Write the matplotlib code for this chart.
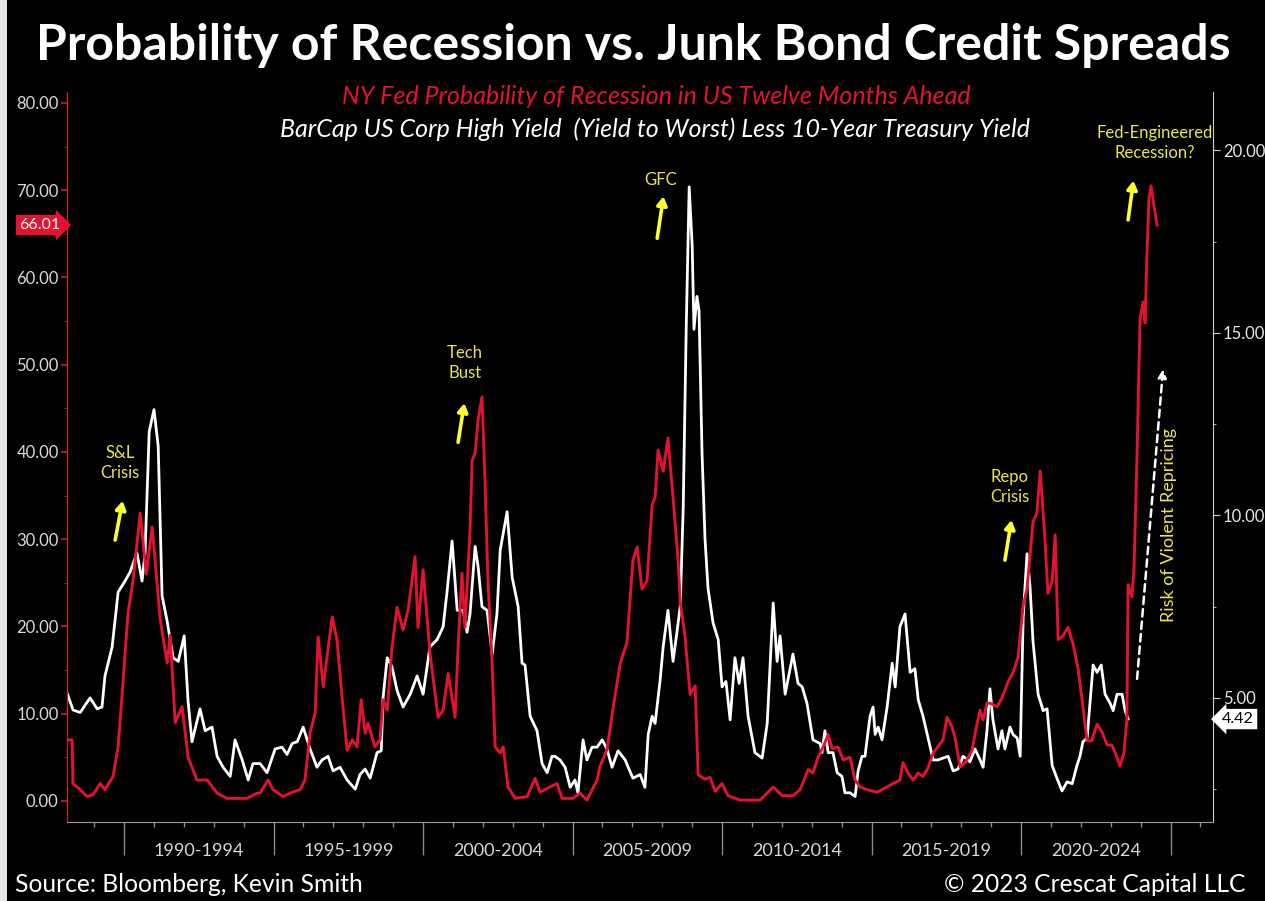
import numpy as np
import matplotlib
matplotlib.use("Agg")
import matplotlib.pyplot as plt
import matplotlib.transforms as mtransforms
from matplotlib.patches import Rectangle

# NY Fed probability of recession (left axis, %)
red_years = [1988.09, 1988.26, 1988.29, 1988.53, 1988.76, 1988.96, 1989.20, 1989.36, 1989.63, 1989.80,
             1989.97, 1990.13, 1990.30, 1990.54, 1990.74, 1990.94, 1991.20, 1991.44, 1991.54, 1991.71,
             1991.94, 1992.14, 1992.44, 1992.78, 1993.11, 1993.44, 1994.11, 1994.45, 1994.55, 1994.82,
             1994.98, 1995.32, 1995.62, 1995.89, 1996.05, 1996.22, 1996.39, 1996.49, 1996.66, 1996.96,
             1997.12, 1997.29, 1997.46, 1997.63, 1997.79, 1997.93, 1998.06, 1998.16, 1998.39, 1998.56,
             1998.66, 1998.80, 1998.96, 1999.13, 1999.33, 1999.50, 1999.73, 1999.83, 2000.00, 2000.23,
             2000.50, 2000.67, 2000.84, 2001.07, 2001.17, 2001.30, 2001.40, 2001.57, 2001.64, 2001.74,
             2001.84, 2001.97, 2002.07, 2002.17, 2002.31, 2002.41, 2002.58, 2002.68, 2002.84, 2003.08,
             2003.48, 2003.75, 2003.91, 2004.18, 2004.48, 2004.65, 2005.02, 2005.25, 2005.48, 2005.82,
             2005.92, 2006.15, 2006.35, 2006.59, 2006.82, 2007.02, 2007.16, 2007.32, 2007.49, 2007.66,
             2007.76, 2007.86, 2008.03, 2008.19, 2008.36, 2008.53, 2008.60, 2008.76, 2008.93, 2009.10,
             2009.20, 2009.43, 2009.60, 2009.77, 2010.00, 2010.20, 2010.60, 2011.27, 2011.71, 2012.01,
             2012.37, 2012.61, 2012.88, 2013.04, 2013.21, 2013.38, 2013.55, 2013.68, 2013.88, 2014.05,
             2014.28, 2014.45, 2014.62, 2014.85, 2015.18, 2015.52, 2015.72, 2015.95, 2016.05, 2016.22,
             2016.39, 2016.56, 2016.72, 2016.89, 2017.06, 2017.22, 2017.39, 2017.53, 2017.69, 2017.79,
             2017.96, 2018.13, 2018.36, 2018.53, 2018.63, 2018.73, 2018.86, 2018.96, 2019.20, 2019.36,
             2019.57, 2019.73, 2019.90, 2020.07, 2020.20, 2020.40, 2020.53, 2020.64, 2020.80, 2020.90,
             2021.04, 2021.14, 2021.24, 2021.40, 2021.57, 2021.74, 2021.91, 2022.07, 2022.21, 2022.37,
             2022.54, 2022.71, 2022.88, 2023.04, 2023.21, 2023.31, 2023.44, 2023.54, 2023.58, 2023.71,
             2023.78, 2023.88, 2023.98, 2024.08, 2024.15, 2024.21, 2024.28, 2024.35, 2024.41, 2024.55]
red_vals = [7.0, 7.0, 2.0, 1.3, 0.5, 0.7, 2.0, 1.3, 2.8, 6.2,
            13.9, 21.5, 25.3, 33.0, 26.0, 31.4, 21.0, 15.8, 19.0, 9.0,
            10.8, 5.0, 2.4, 2.4, 0.9, 0.3, 0.3, 0.9, 0.9, 2.4,
            1.3, 0.5, 1.0, 1.3, 2.4, 7.8, 10.1, 18.8, 13.1, 21.1,
            18.5, 11.9, 5.8, 7.0, 6.2, 11.6, 7.8, 8.9, 6.2, 7.0,
            11.6, 10.4, 17.6, 22.2, 19.6, 21.9, 28.0, 19.9, 26.5, 17.0,
            9.6, 10.4, 14.6, 9.6, 17.6, 26.1, 19.9, 31.0, 39.0, 39.9,
            43.7, 46.3, 36.8, 25.3, 15.8, 6.2, 5.5, 6.2, 1.6, 0.3,
            0.5, 2.6, 1.0, 1.5, 2.0, 0.3, 0.3, 0.9, 0.1, 2.4,
            4.0, 5.9, 10.5, 15.7, 18.2, 27.6, 29.1, 24.3, 25.2, 33.9,
            34.8, 40.2, 37.8, 41.6, 34.8, 27.6, 22.8, 18.9, 12.2, 13.2,
            3.0, 2.5, 2.7, 1.1, 2.0, 0.6, 0.1, 0.1, 1.6, 0.6,
            0.6, 1.3, 3.6, 3.2, 5.0, 6.2, 7.6, 6.0, 6.2, 4.7,
            5.0, 2.4, 1.6, 1.3, 1.0, 1.6, 2.0, 2.4, 4.4, 3.2,
            2.4, 3.2, 2.8, 3.8, 5.5, 6.2, 7.0, 9.6, 8.5, 7.3,
            3.9, 4.4, 5.8, 8.9, 10.4, 9.3, 11.2, 11.2, 10.8, 11.8,
            13.7, 14.7, 16.5, 22.4, 24.3, 32.0, 33.0, 37.8, 30.0, 23.8,
            25.2, 30.5, 18.5, 18.9, 19.9, 18.0, 15.1, 10.8, 6.9, 6.9,
            8.8, 7.9, 6.4, 6.4, 5.0, 4.0, 5.5, 9.3, 24.8, 23.4,
            26.7, 39.8, 55.2, 57.2, 54.8, 62.7, 69.1, 70.5, 69.0, 66.01]

# HY yield to worst less 10y treasury (right axis, %)
white_years = [1988.09, 1988.29, 1988.53, 1988.86, 1989.10, 1989.26, 1989.36, 1989.60, 1989.80, 1990.03,
               1990.20, 1990.43, 1990.60, 1990.70, 1990.84, 1991.00, 1991.14, 1991.27, 1991.44, 1991.64,
               1991.81, 1992.01, 1992.14, 1992.27, 1992.54, 1992.71, 1992.94, 1993.11, 1993.31, 1993.55,
               1993.71, 1993.95, 1994.15, 1994.31, 1994.55, 1994.78, 1995.05, 1995.28, 1995.45, 1995.62,
               1995.79, 1995.99, 1996.22, 1996.45, 1996.62, 1996.82, 1996.99, 1997.22, 1997.46, 1997.73,
               1997.89, 1998.06, 1998.23, 1998.46, 1998.60, 1998.66, 1998.80, 1998.96, 1999.13, 1999.33,
               1999.57, 1999.80, 2000.00, 2000.23, 2000.47, 2000.67, 2000.80, 2000.97, 2001.14, 2001.34,
               2001.47, 2001.57, 2001.74, 2001.84, 2001.97, 2002.14, 2002.31, 2002.47, 2002.58, 2002.81,
               2002.98, 2003.08, 2003.18, 2003.31, 2003.41, 2003.58, 2003.81, 2003.98, 2004.15, 2004.31,
               2004.41, 2004.58, 2004.75, 2004.92, 2005.08, 2005.18, 2005.35, 2005.48, 2005.65, 2005.82,
               2005.99, 2006.15, 2006.32, 2006.52, 2006.76, 2006.86, 2007.02, 2007.26, 2007.42, 2007.53,
               2007.66, 2007.76, 2007.93, 2008.03, 2008.19, 2008.36, 2008.49, 2008.60, 2008.70, 2008.80,
               2008.90, 2009.00, 2009.06, 2009.16, 2009.23, 2009.33, 2009.43, 2009.53, 2009.70, 2009.87,
               2010.00, 2010.13, 2010.27, 2010.43, 2010.57, 2010.70, 2010.87, 2011.10, 2011.34, 2011.51,
               2011.71, 2011.84, 2011.94, 2012.11, 2012.37, 2012.54, 2012.68, 2012.84, 2013.04, 2013.28,
               2013.34, 2013.44, 2013.55, 2013.71, 2013.85, 2014.01, 2014.11, 2014.28, 2014.45, 2014.55,
               2014.68, 2014.78, 2014.95, 2015.05, 2015.12, 2015.22, 2015.35, 2015.52, 2015.69, 2015.79,
               2015.95, 2016.12, 2016.29, 2016.45, 2016.56, 2016.72, 2016.96, 2017.06, 2017.22, 2017.39,
               2017.56, 2017.73, 2017.89, 2018.06, 2018.29, 2018.46, 2018.63, 2018.73, 2018.86, 2018.96,
               2019.06, 2019.23, 2019.36, 2019.46, 2019.63, 2019.73, 2019.87, 2019.97, 2020.07, 2020.20,
               2020.30, 2020.40, 2020.57, 2020.74, 2020.87, 2021.04, 2021.20, 2021.37, 2021.54, 2021.71,
               2021.87, 2021.97, 2022.07, 2022.21, 2022.41, 2022.54, 2022.68, 2022.81, 2022.98, 2023.08,
               2023.21, 2023.38, 2023.48, 2023.58]
white_vals = [5.14, 4.67, 4.6, 5.0, 4.7, 4.75, 5.6, 6.4, 7.9, 8.2,
              8.45, 8.97, 8.2, 8.97, 12.3, 12.9, 11.9, 7.8, 7.1, 6.1,
              6.0, 6.7, 4.9, 3.8, 4.7, 4.1, 4.2, 3.4, 3.1, 2.85,
              3.85, 3.3, 2.75, 3.2, 3.2, 2.95, 3.6, 3.65, 3.45, 3.75,
              3.8, 4.2, 3.6, 3.1, 3.3, 3.4, 3.0, 3.1, 2.75, 2.5,
              2.9, 3.05, 2.8, 3.5, 3.55, 5.0, 6.1, 5.85, 5.2, 4.75,
              5.1, 5.6, 5.1, 6.4, 6.6, 6.95, 7.9, 9.3, 7.4, 7.4,
              6.8, 7.3, 9.15, 8.6, 7.5, 7.4, 6.2, 7.3, 9.05, 10.1,
              8.3, 7.9, 7.5, 5.95, 5.9, 4.5, 4.1, 3.2, 2.95, 3.4,
              3.4, 3.3, 3.1, 2.55, 2.75, 2.4, 3.85, 3.3, 3.65, 3.65,
              3.85, 3.6, 3.1, 3.55, 3.3, 3.1, 2.8, 2.9, 2.55, 4.0,
              4.5, 4.3, 5.5, 6.4, 7.4, 6.0, 6.8, 7.5, 10.2, 15.1,
              19.0, 17.4, 15.1, 16.0, 15.6, 11.7, 9.35, 8.0, 7.05, 6.6,
              5.3, 5.45, 4.4, 6.1, 5.4, 6.1, 4.5, 3.5, 3.35, 4.3,
              7.6, 6.0, 6.7, 5.1, 6.2, 5.4, 5.3, 4.85, 3.85, 3.75,
              3.5, 4.1, 3.5, 3.5, 2.95, 2.85, 2.4, 2.4, 2.3, 3.0,
              3.4, 3.4, 4.5, 4.75, 4.0, 4.2, 3.85, 4.75, 5.95, 5.3,
              6.95, 7.3, 5.7, 5.8, 4.95, 4.5, 3.65, 3.3, 3.3, 3.35,
              3.4, 3.0, 3.05, 3.4, 3.25, 3.6, 3.3, 3.1, 4.1, 5.25,
              4.4, 3.6, 4.1, 3.6, 4.2, 4.0, 3.9, 3.4, 7.2, 8.95,
              8.05, 6.55, 5.1, 4.65, 4.7, 3.15, 2.8, 2.45, 2.7, 2.65,
              3.15, 3.4, 3.8, 3.9, 5.9, 5.7, 5.9, 5.1, 4.85, 4.65,
              5.1, 5.1, 4.65, 4.42]

period_labels = ["1990-1994", "1995-1999", "2000-2004", "2005-2009",
                 "2010-2014", "2015-2019", "2020-2024"]
period_starts = [1990, 1995, 2000, 2005, 2010, 2015, 2020, 2025]
left_ticks = [0, 10, 20, 30, 40, 50, 60, 70, 80]
right_ticks = [5, 10, 15, 20]

RED = "#e3122f"
YEL = "#e8e84a"
ARROW_YEL = "#ffff2e"
GREY = "#d9d9d9"

plt.rcParams['font.family'] = ['Lato', 'DejaVu Sans']

fig = plt.figure(figsize=(12.65, 9.01), dpi=100, facecolor="black")
# light strip at the left edge of the screenshot
fig.patches.append(Rectangle((0, 0), 7 / 1265, 1, transform=fig.transFigure,
                             facecolor="#e6e6e6", edgecolor="none", zorder=0))

ax = fig.add_axes([67 / 1265, 1 - 822 / 901, (1213 - 67) / 1265, (822 - 92) / 901])
ax2 = ax.twinx()
ax.set_zorder(ax2.get_zorder() + 1)
ax.patch.set_visible(False)
ax2.set_facecolor("black")

ax2.plot(white_years, white_vals, color="white", lw=2.0, solid_joinstyle="round")
ax.plot(red_years, red_vals, color=RED, lw=2.1, solid_joinstyle="round")

ax.set_xlim(1988.09, 2026.42)
ax.set_ylim(-2.41, 81.26)
ax2.set_ylim(1.60, 21.60)

for a in (ax, ax2):
    a.spines["top"].set_visible(False)
ax.spines["left"].set_color(RED)
ax.spines["right"].set_visible(False)
ax.spines["bottom"].set_color("#9a9a9a")
ax2.spines["left"].set_visible(False)
ax2.spines["bottom"].set_visible(False)
ax2.spines["right"].set_color("#cfcfcf")

ax.set_yticks(left_ticks)
ax.set_yticklabels([f"{v:.2f}" for v in left_ticks])
ax.set_yticks(np.arange(5, 80, 10), minor=True)
ax.tick_params(axis="y", which="major", colors=RED, labelcolor=GREY, length=4, width=1.2,
               labelsize=12, pad=2)
ax.tick_params(axis="y", which="minor", colors=RED, length=2)

ax2.set_yticks(right_ticks)
ax2.set_yticklabels([f"{v:.2f}" for v in right_ticks])
ax2.set_yticks([2.5, 7.5, 12.5, 17.5], minor=True)
ax2.tick_params(axis="y", which="major", colors="#cfcfcf", labelcolor="#e6e6e6", length=5,
                labelsize=12, pad=2)
ax2.tick_params(axis="y", which="minor", colors="#cfcfcf", length=2)

ax.set_xticks(period_starts)
ax.set_xticks(np.arange(1989, 2027), minor=True)
ax.set_xticklabels([])
ax.tick_params(axis="x", which="major", colors="#8a8a8a", length=24, width=1)
ax.tick_params(axis="x", which="minor", colors="#8a8a8a", length=3.5, width=1)

for lab, s in zip(period_labels, period_starts):
    ax.text(s + 2.5, -0.04, lab, transform=ax.get_xaxis_transform(), ha="center", va="center",
            color=GREY, fontsize=13)

# value badges
lt = mtransforms.blended_transform_factory(ax.transAxes, ax.transData)
ax.text(-0.006, red_vals[-1], f"{red_vals[-1]:.2f}", transform=lt, ha="right", va="center",
        color="white", fontsize=11.5, clip_on=False,
        bbox=dict(boxstyle="rarrow,pad=0.2", fc=RED, ec="none"))
rt = mtransforms.blended_transform_factory(ax2.transAxes, ax2.transData)
ax2.text(1.008, white_vals[-1], f"{white_vals[-1]:.2f}", transform=rt, ha="left", va="center",
         color="black", fontsize=11.5, clip_on=False,
         bbox=dict(boxstyle="larrow,pad=0.2", fc="white", ec="none"))

# annotations
notes = [("S&L\nCrisis", 1989.87, 38.7, (1989.70, 29.9), (1989.95, 34.4)),
         ("Tech\nBust", 2001.40, 50.2, (2001.17, 41.1), (2001.38, 45.6)),
         ("GFC", 2007.93, 71.2, (2007.83, 64.5), (2008.04, 69.3)),
         ("Repo\nCrisis", 2019.63, 36.0, (2019.46, 27.6), (2019.68, 32.2)),
         ("Fed-Engineered\nRecession?", 2024.48, 75.4, (2023.58, 66.6), (2023.76, 71.1))]
for txt, tx, ty, tail, head in notes:
    ax.text(tx, ty, txt, ha="center", va="center", color=YEL, fontsize=12, linespacing=1.3,
            clip_on=False)
    ax.annotate("", xy=head, xytext=tail,
                arrowprops=dict(arrowstyle="-|>,head_length=0.5,head_width=0.3",
                                color=ARROW_YEL, lw=2.6, shrinkA=0, shrinkB=0))

ax.text(2024.95, 31.6, "Risk of Violent Repricing", rotation=90, ha="center", va="center",
        color=YEL, fontsize=13)
ax.annotate("", xy=(2024.75, 49.5), xytext=(2023.88, 14.0),
            arrowprops=dict(arrowstyle="-|>,head_length=0.5,head_width=0.25", color="white",
                            lw=1.8, linestyle=(0, (3, 2)), shrinkA=0, shrinkB=0))

fig.text(633 / 1265, 1 - 45 / 901, "Probability of Recession vs. Junk Bond Credit Spreads",
         ha="center", va="center", color="white", fontsize=36, fontweight="bold")
fig.text(656 / 1265, 1 - 96 / 901, "NY Fed Probability of Recession in US Twelve Months Ahead",
         ha="center", va="center", color=RED, fontsize=18, style="italic")
fig.text(655 / 1265, 1 - 129 / 901, "BarCap US Corp High Yield  (Yield to Worst) Less 10-Year Treasury Yield",
         ha="center", va="center", color="white", fontsize=18, style="italic")
fig.text(15 / 1265, 1 - 884 / 901, "Source: Bloomberg, Kevin Smith", ha="left", va="center",
         color="white", fontsize=17.7)
fig.text(1245 / 1265, 1 - 884 / 901, "\u00a9 2023 Crescat Capital LLC", ha="right", va="center",
         color="white", fontsize=17.7)

fig.savefig("out.png", dpi=100, facecolor="black")
